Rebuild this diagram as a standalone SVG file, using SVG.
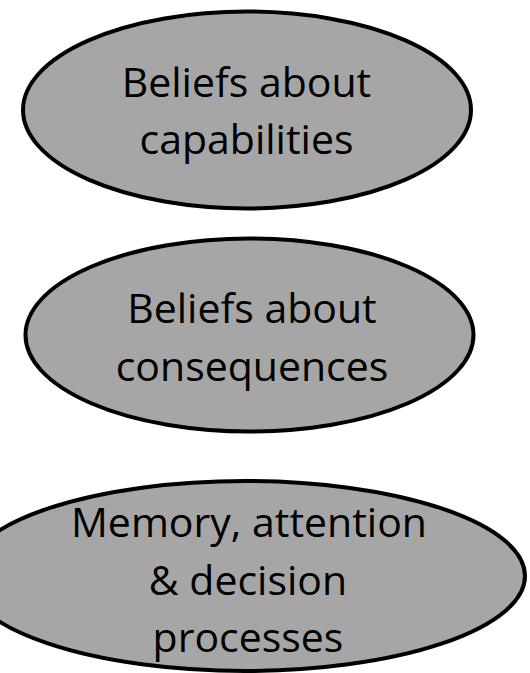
<svg xmlns="http://www.w3.org/2000/svg" width="530" height="673" viewBox="0 0 530 673">
<style>
.n ellipse{fill:#a6a6a6;stroke:#000;stroke-width:4}
.n text{font-family:"Open Sans","Liberation Sans",sans-serif;font-size:41px;fill:#000;text-anchor:middle}
</style>
<rect width="530" height="673" fill="#fff"/>
<g id="connectors"/>
<g id="node-capabilities" class="n">
<ellipse cx="247" cy="110" rx="224" ry="98.5"/>
<text x="246.5" y="96.5">Beliefs about</text>
<text x="246.5" y="154">capabilities</text>
</g>
<g id="node-consequences" class="n">
<ellipse cx="249.5" cy="335" rx="224" ry="96.5"/>
<text x="252" y="323">Beliefs about</text>
<text x="252" y="380.5">consequences</text>
</g>
<g id="node-memory" class="n">
<ellipse cx="245" cy="576" rx="280" ry="95"/>
<text x="249" y="537">Memory, attention</text>
<text x="248" y="595">&amp; decision</text>
<text x="248" y="652">processes</text>
</g>
</svg>
